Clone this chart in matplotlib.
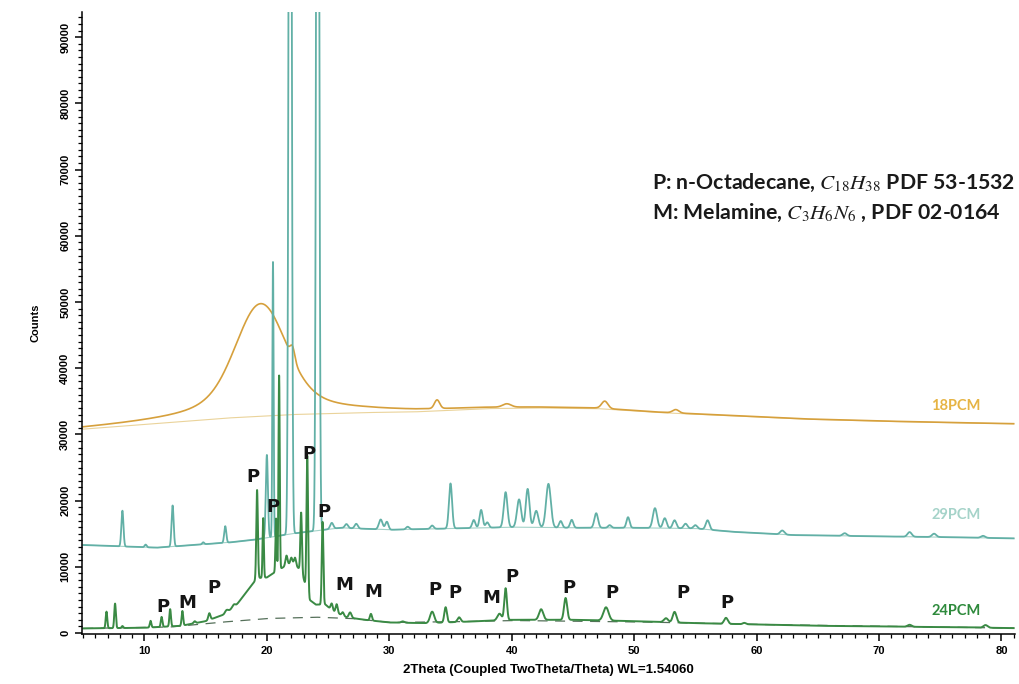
import numpy as np
import matplotlib
matplotlib.use("Agg")
import matplotlib.pyplot as plt
from matplotlib.ticker import MultipleLocator

plt.rcParams['font.family'] = ['Liberation Sans', 'DejaVu Sans']
plt.rcParams['mathtext.fontset'] = 'stix'

# ---- 18PCM (top, amber) ----
pcm18_base_x = [5, 12, 17, 22, 28, 32, 38, 42, 47, 52, 58, 64, 70, 75, 81]
pcm18_base_y = [30800, 31800, 32500, 33000, 33300, 33400, 33900, 34000, 33900,
                33300, 32800, 32300, 32000, 31800, 31600]
pcm18_hump_pos, pcm18_hump_gauss_h, pcm18_hump_gauss_w = 19.5, 10500, 4.6
pcm18_hump_lor_h, pcm18_hump_lor_w = 6500, 7.0
pcm18_pk_pos = [22.1, 33.9, 39.6, 47.6, 53.4]
pcm18_pk_h   = [1800, 1300, 500, 1100, 500]
pcm18_pk_w   = [0.45, 0.5, 0.8, 0.6, 0.6]

# ---- 29PCM (middle, teal) ----
pcm29_base_x = [5, 8, 11, 14, 17, 19, 22, 26, 30, 35, 40, 45, 50, 55, 58, 63, 70, 75, 81]
pcm29_base_y = [13300, 13100, 12900, 13300, 13700, 14100, 15000, 15900, 15600, 15800,
                16000, 15900, 15900, 15800, 15300, 14800, 14600, 14500, 14300]
pcm29_pk_pos = [8.2, 10.1, 12.3, 14.8, 16.6, 20.0, 20.5, 21.9, 24.15,
                25.3, 26.5, 27.3, 29.3, 29.8, 31.5, 33.5,
                35.0, 36.9, 37.5, 38.0, 39.5, 40.6, 41.3, 42.0, 43.0, 44.0, 44.9,
                46.9, 48.0, 49.5, 51.7, 52.5, 53.3, 54.2, 55.0, 56.0,
                62.1, 67.2, 72.5, 74.5, 78.5]
pcm29_pk_h   = [5400, 400, 6200, 300, 2500, 12500, 41500, 200000, 200000,
                900, 600, 700, 1500, 1200, 400, 500,
                6800, 1200, 2700, 800, 5300, 4200, 5800, 2500, 6600, 1000, 1200,
                2200, 400, 1600, 3000, 1500, 1200, 700, 500, 1400,
                600, 400, 700, 500, 300]
pcm29_pk_w   = [0.2, 0.2, 0.2, 0.2, 0.2, 0.2, 0.12, 0.24, 0.24,
                0.3, 0.3, 0.3, 0.35, 0.3, 0.3, 0.3,
                0.3, 0.3, 0.3, 0.3, 0.35, 0.4, 0.35, 0.4, 0.45, 0.3, 0.3,
                0.35, 0.3, 0.3, 0.4, 0.35, 0.35, 0.35, 0.35, 0.35,
                0.4, 0.4, 0.4, 0.4, 0.4]

# ---- 24PCM (bottom, green) ----
pcm24_base_x = [5, 10, 13, 15, 16.5, 17.5, 18.5, 19.2, 20, 21, 22, 22.8, 23.5, 24,
                24.8, 25.4, 26.5, 28, 30, 33, 36, 40, 45, 50, 55, 60, 65, 70, 75, 81]
pcm24_base_y = [700, 800, 1100, 1800, 2800, 4200, 6600, 8300, 8400, 9600, 10600, 9500,
                5000, 4300, 4300, 3300, 2400, 2000, 1600, 1500, 1700, 2000, 2000,
                1800, 1500, 1300, 1100, 1000, 900, 750]
pcm24_pk_pos = [6.9, 7.6, 8.2, 10.5, 11.4, 12.1, 13.1, 14.1, 15.3, 16.7, 17.3,
                19.2, 19.7, 20.75, 21.0, 21.6, 22.0, 22.3, 22.8, 23.3, 24.55,
                25.3, 25.7, 26.2, 26.8, 28.5, 31.1, 33.5, 34.6, 35.7, 39.0, 39.5,
                42.4, 44.4, 47.7, 52.6, 53.3, 57.5, 59.0, 72.5, 78.7]
pcm24_pk_h   = [2500, 3700, 300, 1000, 1500, 2600, 2200, 300, 1000, 400, 400,
                13300, 9000, 8000, 29300, 1500, 800, 1200, 8700, 20500, 12500,
                1000, 1300, 500, 800, 1000, 200, 1700, 2300, 700, 1000, 4800,
                1600, 3300, 2000, 600, 1600, 900, 200, 300, 400]
pcm24_pk_w   = [0.15, 0.15, 0.15, 0.15, 0.15, 0.15, 0.15, 0.2, 0.2, 0.3, 0.3,
                0.15, 0.12, 0.12, 0.12, 0.2, 0.2, 0.2, 0.15, 0.15, 0.15,
                0.2, 0.2, 0.2, 0.25, 0.2, 0.3, 0.4, 0.25, 0.3, 0.4, 0.25,
                0.4, 0.3, 0.5, 0.4, 0.35, 0.35, 0.3, 0.4, 0.4]
pcm24_bg_x = [5, 12, 16, 20, 24, 27, 30, 35, 40, 50, 60, 81]
pcm24_bg_y = [700, 900, 1600, 2200, 2400, 2200, 1600, 1700, 1900, 1700, 1300, 750]

# ---- peak markers ----
mark_text = ['P', 'M', 'P', 'P', 'P', 'P', 'P', 'M', 'M',
             'P', 'P', 'M', 'P', 'P', 'P', 'P', 'P']
mark_x = [11.5, 13.5, 15.7, 18.9, 20.5, 23.4, 24.7, 26.3, 28.7,
          33.7, 35.4, 38.3, 40.0, 44.7, 48.2, 54.0, 57.6]
mark_y = [3900, 4500, 6800, 23500, 19000, 27000, 18300, 7200, 6200,
          6500, 6000, 5300, 8500, 6800, 6000, 6000, 4500]

series_names = ['18PCM', '29PCM', '24PCM']
label_x = [76.3, 76.3, 76.3]
label_y = [34300, 17800, 3300]


def pattern(x, bx, by, pos, h, w):
    y = np.interp(x, bx, by)
    for p, hh, ww in zip(pos, h, w):
        y = y + hh * np.exp(-4 * np.log(2) * (x - p) ** 2 / ww ** 2)
    return y


x = np.linspace(5, 81, 12000)
y18 = pattern(x, pcm18_base_x, pcm18_base_y, pcm18_pk_pos, pcm18_pk_h, pcm18_pk_w)
y18 = (y18 + pcm18_hump_gauss_h * np.exp(-4 * np.log(2) * (x - pcm18_hump_pos) ** 2 / pcm18_hump_gauss_w ** 2)
       + pcm18_hump_lor_h / (1 + ((x - pcm18_hump_pos) / (pcm18_hump_lor_w / 2)) ** 2))
y29 = pattern(x, pcm29_base_x, pcm29_base_y, pcm29_pk_pos, pcm29_pk_h, pcm29_pk_w)
y24 = pattern(x, pcm24_base_x, pcm24_base_y, pcm24_pk_pos, pcm24_pk_h, pcm24_pk_w)

c18, c29, c24 = '#d6a03c', '#62b0a6', '#3a8a44'

fig = plt.figure(figsize=(10.2, 6.84), dpi=100)
ax = fig.add_axes([0.0804, 0.073, 0.9146, 0.9095])

# fitted backgrounds
ax.plot(x, np.interp(x, pcm18_base_x, pcm18_base_y), color='#ead39a', lw=0.8)
ax.plot(x, np.interp(x, pcm29_base_x, pcm29_base_y), color='#a3d2c8', lw=0.8)
ax.plot(x, np.interp(x, pcm24_bg_x, pcm24_bg_y), color='#55705a', lw=0.9, ls=(0, (8, 6)))

ax.plot(x, y18, color=c18, lw=1.2)
ax.plot(x, y29, color=c29, lw=1.3)
ax.plot(x, y24, color=c24, lw=1.4)

for t, mx, my in zip(mark_text, mark_x, mark_y):
    ax.text(mx, my, t, ha='center', va='center', fontsize=13,
            fontweight='bold', family='DejaVu Sans', color='#151515')

for name, lx, ly, c in zip(series_names, label_x, label_y, ['#e6b444', '#a5d3c9', '#2e8a3c']):
    ax.text(lx, ly, name, ha='center', va='center', fontsize=10.5,
            fontweight='bold', family='Lato', color=c)

fig.text(0.639, 0.733, r"P: n-Octadecane, $C_{18}H_{38}$ PDF 53-1532",
         fontsize=15.3, family='Lato', fontweight='bold', color='#1a1a1a', va='center', ha='left')
fig.text(0.639, 0.688, r"M: Melamine, $C_3H_6N_6$ , PDF 02-0164",
         fontsize=15.3, family='Lato', fontweight='bold', color='#1a1a1a', va='center', ha='left')

ax.set_xlim(4.9, 81.1)
ax.set_ylim(-150, 93800)
ax.xaxis.set_major_locator(MultipleLocator(10))
ax.xaxis.set_minor_locator(MultipleLocator(1))
ax.yaxis.set_major_locator(MultipleLocator(10000))
ax.yaxis.set_minor_locator(MultipleLocator(1000))
ax.tick_params(which='major', direction='out', length=5, width=1.1, labelsize=8)
ax.tick_params(which='minor', direction='out', length=3, width=0.9)
ax.tick_params(axis='y', labelrotation=90)
for lab in ax.get_yticklabels():
    lab.set_va('center')
    lab.set_fontweight('bold')
for lab in ax.get_xticklabels():
    lab.set_fontweight('bold')
for s in ['top', 'right']:
    ax.spines[s].set_visible(False)
for s in ['left', 'bottom']:
    ax.spines[s].set_linewidth(1.1)

ax.set_xlabel('2Theta (Coupled TwoTheta/Theta) WL=1.54060', fontsize=9.5,
              fontweight='bold', labelpad=6)
ax.set_ylabel('Counts', fontsize=8, fontweight='bold', labelpad=14)

fig.savefig('out.png', dpi=100)
